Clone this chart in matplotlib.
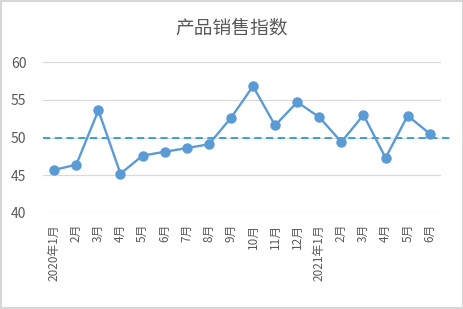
import matplotlib.pyplot as plt
from matplotlib.patches import Rectangle

plt.rcParams['font.family'] = ['Noto Sans CJK SC', 'DejaVu Sans']

# month labels and index values
months = ['2020年1月', '2月', '3月', '4月', '5月', '6月', '7月', '8月', '9月',
          '10月', '11月', '12月', '2021年1月', '2月', '3月', '4月', '5月', '6月']
index_values = [45.7, 46.4, 53.6, 45.2, 47.6, 48.1, 48.6, 49.1, 52.6,
                56.8, 51.6, 54.7, 52.7, 49.4, 53.0, 47.3, 52.9, 50.5]
baseline = 50
yticks = [40, 45, 50, 55, 60]

fig = plt.figure(figsize=(4.64, 3.09), dpi=100)
ax = fig.add_axes([0.093, 0.311, 0.857, 0.488])

x = list(range(len(months)))
ax.plot(x, index_values, color='#5B9BD5', lw=1.7, marker='o', ms=6.5, zorder=3)
ax.axhline(baseline, xmin=0, xmax=1.028, color='#2E9BD6', lw=1.3,
           ls=(0, (4, 2.5)), clip_on=False, zorder=2)

ax.set_xlim(-0.5, len(months) - 0.5)
ax.set_ylim(40, 60)
ax.set_yticks(yticks)
ax.set_xticks(x)
ax.set_xticklabels(months, rotation=90, fontsize=8.5, color='#595959')
ax.tick_params(axis='y', labelsize=10, labelcolor='#595959', length=0, pad=12)
ax.tick_params(axis='x', length=0, pad=8)
ax.grid(axis='y', color='#D9D9D9', lw=0.9)
ax.set_axisbelow(True)
for s in ax.spines.values():
    s.set_visible(False)

fig.text(0.5, 0.91, '产品销售指数', ha='center', va='center', fontsize=13.5, color='#595959')
fig.patches.append(Rectangle((0.002, 0.003), 0.996, 0.994, transform=fig.transFigure,
                             fill=False, ec='#D0D0D0', lw=1.2))

fig.savefig('out.png', dpi=100)
